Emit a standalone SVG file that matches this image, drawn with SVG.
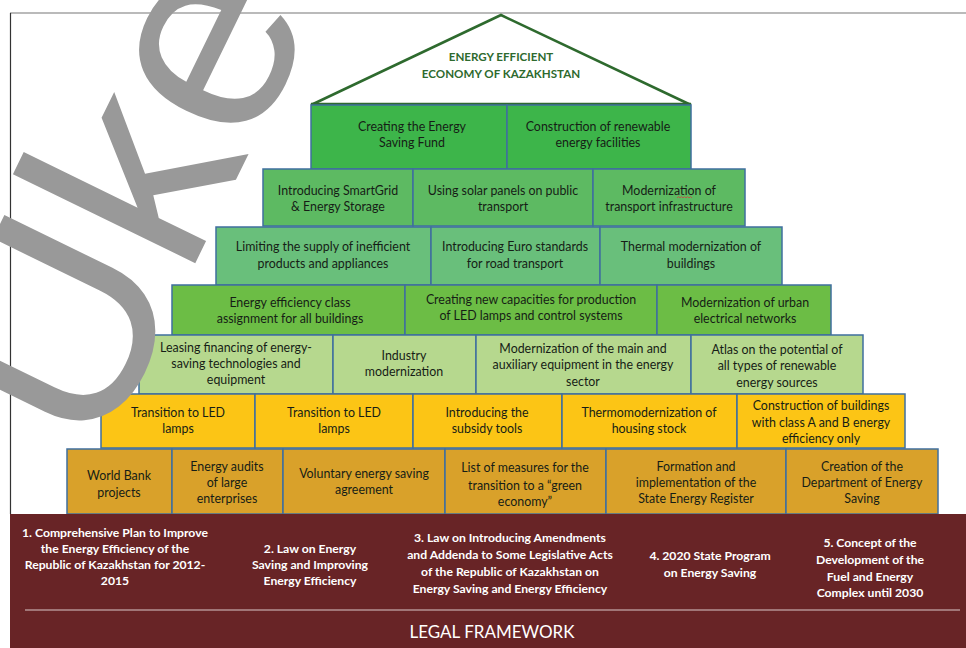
<svg xmlns="http://www.w3.org/2000/svg" width="966" height="648" viewBox="0 0 966 648">
<defs>
<style>
.box{stroke:#3f6f9e;stroke-width:1.5}
.r1{fill:#3db54a}.r2{fill:#5dba62}.r3{fill:#69bf7b}.r4{fill:#6cbd45}.r5{fill:#b6d88e}.r6{fill:#fcc515}.r7{fill:#d9a12a}
.t{font-family:Lato,"Liberation Sans",sans-serif;font-size:12.4px;fill:#161d16;text-anchor:middle}
.lt{font-family:Lato,"Liberation Sans",sans-serif;font-size:12.2px;font-weight:bold;fill:#ffffff;text-anchor:middle}
.roof{font-family:Lato,"Liberation Sans",sans-serif;font-size:11.6px;font-weight:bold;fill:#2e6a2e;text-anchor:middle}
</style>
</defs>
<rect x="0" y="0" width="966" height="648" fill="#ffffff"/>
<line x1="10" y1="13" x2="966" y2="13" stroke="#777" stroke-width="1.2"/>
<line x1="10.5" y1="13" x2="10.5" y2="514" stroke="#333" stroke-width="1.2"/>

<g id="roof">
<polyline points="311,105 501,15 691,105" fill="none" stroke="#2e6a2e" stroke-width="2.5"/>
<line x1="311" y1="104" x2="691" y2="104" stroke="#2e6a2e" stroke-width="2.5"/>
<text class="roof" x="501" y="61">ENERGY EFFICIENT</text>
<text class="roof" x="501" y="78">ECONOMY OF KAZAKHSTAN</text>
</g>

<g id="n1a"><rect class="box r1" x="311" y="105" width="196" height="64"/><text class="t" x="412" y="131">Creating the Energy</text><text class="t" x="412" y="147">Saving Fund</text></g>
<g id="n1b"><rect class="box r1" x="507" y="105" width="184" height="64"/><text class="t" x="598" y="131">Construction of renewable</text><text class="t" x="598" y="147">energy facilities</text></g>

<g id="n2a"><rect class="box r2" x="263" y="169" width="150" height="57"/><text class="t" x="338" y="195">Introducing SmartGrid</text><text class="t" x="338" y="211">&amp; Energy Storage</text></g>
<g id="n2b"><rect class="box r2" x="413" y="169" width="180" height="57"/><text class="t" x="503" y="195">Using solar panels on public</text><text class="t" x="503" y="211">transport</text></g>
<g id="n2c"><rect class="box r2" x="593" y="169" width="152" height="57"/><text class="t" x="669" y="195">Modernization of</text><text class="t" x="669" y="211">transport infrastructure</text>
<polyline points="677,198 678.5,196.5 680,198 681.5,196.5 683,198 684.5,196.5 686,198 687.5,196.5 689,198 690.5,196.5 692,198" fill="none" stroke="#d04040" stroke-width="0.8"/></g>

<g id="n3a"><rect class="box r3" x="216" y="227" width="215" height="58"/><text class="t" x="323" y="251">Limiting the supply of inefficient</text><text class="t" x="323" y="268">products and appliances</text></g>
<g id="n3b"><rect class="box r3" x="431" y="227" width="169" height="58"/><text class="t" x="515" y="251">Introducing Euro standards</text><text class="t" x="515" y="268">for road transport</text></g>
<g id="n3c"><rect class="box r3" x="600" y="227" width="182" height="58"/><text class="t" x="691" y="251">Thermal modernization of</text><text class="t" x="691" y="268">buildings</text></g>

<g id="n4a"><rect class="box r4" x="172" y="285" width="233" height="50"/><text class="t" x="290" y="307">Energy efficiency class</text><text class="t" x="290" y="323">assignment for all buildings</text></g>
<g id="n4b"><rect class="box r4" x="405" y="285" width="252" height="50"/><text class="t" x="531" y="304">Creating new capacities for production</text><text class="t" x="531" y="320">of LED lamps and control systems</text></g>
<g id="n4c"><rect class="box r4" x="657" y="285" width="174" height="50"/><text class="t" x="745" y="307">Modernization of urban</text><text class="t" x="745" y="323">electrical networks</text></g>

<g id="n5a"><rect class="box r5" x="139" y="335" width="194" height="59"/><text class="t" x="236" y="352">Leasing financing of energy-</text><text class="t" x="236" y="368">saving technologies and</text><text class="t" x="236" y="384">equipment</text></g>
<g id="n5b"><rect class="box r5" x="333" y="335" width="143" height="59"/><text class="t" x="404" y="360">Industry</text><text class="t" x="404" y="376">modernization</text></g>
<g id="n5c"><rect class="box r5" x="476" y="335" width="215" height="59"/><text class="t" x="583" y="353">Modernization of the main and</text><text class="t" x="583" y="369">auxiliary equipment in the energy</text><text class="t" x="583" y="386">sector</text></g>
<g id="n5d"><rect class="box r5" x="691" y="335" width="172" height="59"/><text class="t" x="777" y="354">Atlas on the potential of</text><text class="t" x="777" y="370">all types of renewable</text><text class="t" x="777" y="387">energy sources</text></g>

<g id="n6a"><rect class="box r6" x="101" y="394" width="154" height="54"/><text class="t" x="178" y="417">Transition to LED</text><text class="t" x="178" y="433">lamps</text></g>
<g id="n6b"><rect class="box r6" x="255" y="394" width="158" height="54"/><text class="t" x="334" y="417">Transition to LED</text><text class="t" x="334" y="433">lamps</text></g>
<g id="n6c"><rect class="box r6" x="413" y="394" width="149" height="54"/><text class="t" x="487" y="417">Introducing the</text><text class="t" x="487" y="433">subsidy tools</text></g>
<g id="n6d"><rect class="box r6" x="562" y="394" width="175" height="54"/><text class="t" x="649" y="417">Thermomodernization of</text><text class="t" x="649" y="433">housing stock</text></g>
<g id="n6e"><rect class="box r6" x="737" y="394" width="168" height="54"/><text class="t" x="821" y="410">Construction of buildings</text><text class="t" x="821" y="427">with class A and B energy</text><text class="t" x="821" y="443">efficiency only</text></g>

<g id="n7a"><rect class="box r7" x="67" y="449" width="105" height="65"/><text class="t" x="119" y="480">World Bank</text><text class="t" x="119" y="497">projects</text></g>
<g id="n7b"><rect class="box r7" x="172" y="449" width="111" height="65"/><text class="t" x="227" y="471">Energy audits</text><text class="t" x="227" y="487">of large</text><text class="t" x="227" y="503">enterprises</text></g>
<g id="n7c"><rect class="box r7" x="283" y="449" width="162" height="65"/><text class="t" x="364" y="478">Voluntary energy saving</text><text class="t" x="364" y="494">agreement</text></g>
<g id="n7d"><rect class="box r7" x="445" y="449" width="161" height="65"/><text class="t" x="525" y="472">List of measures for the</text><text class="t" x="525" y="490">transition to a “green</text><text class="t" x="525" y="506">economy”</text></g>
<g id="n7e"><rect class="box r7" x="606" y="449" width="180" height="65"/><text class="t" x="696" y="471">Formation and</text><text class="t" x="696" y="487">implementation of the</text><text class="t" x="696" y="503">State Energy Register</text></g>
<g id="n7f"><rect class="box r7" x="786" y="449" width="152" height="65"/><text class="t" x="862" y="471">Creation of the</text><text class="t" x="862" y="487">Department of Energy</text><text class="t" x="862" y="503">Saving</text></g>

<g id="legal">
<rect x="10" y="514" width="956" height="134" fill="#682426"/>
<line x1="25" y1="610" x2="960" y2="610" stroke="#d9c8c8" stroke-width="1.2"/>
<text class="lt" x="115" y="537">1. Comprehensive Plan to Improve</text>
<text class="lt" x="115" y="553">the Energy Efficiency of the</text>
<text class="lt" x="115" y="569">Republic of Kazakhstan for 2012-</text>
<text class="lt" x="115" y="585">2015</text>
<text class="lt" x="310" y="553">2. Law on Energy</text>
<text class="lt" x="310" y="569">Saving and Improving</text>
<text class="lt" x="310" y="585">Energy Efficiency</text>
<text class="lt" x="510" y="542">3. Law on Introducing Amendments</text>
<text class="lt" x="510" y="559">and Addenda to Some Legislative Acts</text>
<text class="lt" x="510" y="576">of the Republic of Kazakhstan on</text>
<text class="lt" x="510" y="593">Energy Saving and Energy Efficiency</text>
<text class="lt" x="710" y="560">4. 2020 State Program</text>
<text class="lt" x="710" y="577">on Energy Saving</text>
<text class="lt" x="870" y="547">5. Concept of the</text>
<text class="lt" x="870" y="564">Development of the</text>
<text class="lt" x="870" y="581">Fuel and Energy</text>
<text class="lt" x="870" y="597">Complex until 2030</text>
<text x="492" y="638" text-anchor="middle" font-family="Lato,'Liberation Sans',sans-serif" font-size="17" fill="#ffffff">LEGAL FRAMEWORK</text>
</g>

<g id="watermark" transform="translate(10 0) rotate(-12 45 330)">
<text x="60" y="468" transform="rotate(-52 60 468)" font-family="'Liberation Sans',Arial,sans-serif" font-size="280" fill="#999999">Uke</text>
</g>
</svg>
